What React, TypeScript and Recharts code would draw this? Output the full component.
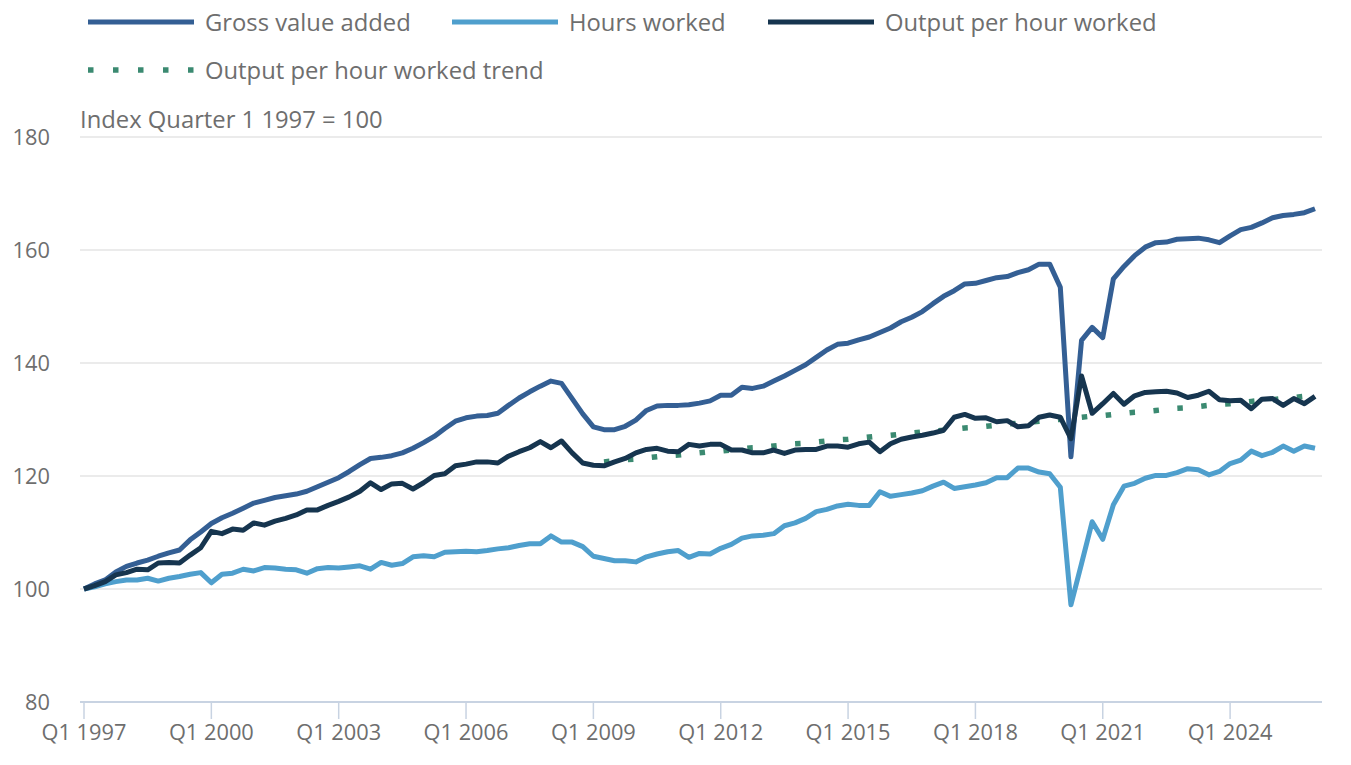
import React from 'react';
import { LineChart, Line, XAxis, YAxis, CartesianGrid } from 'recharts';

// Index Quarter 1 1997 = 100, quarterly from Q1 1997
const gvaValues = [
  100.0, 100.9, 101.6, 103.0, 104.0, 104.6, 105.1, 105.8, 106.4, 106.9, 108.7, 110.1,
  111.6, 112.6, 113.4, 114.3, 115.2, 115.7, 116.2, 116.5, 116.8, 117.3, 118.1, 118.9,
  119.7, 120.8, 122.0, 123.1, 123.3, 123.6, 124.1, 124.9, 125.9, 127.0, 128.4, 129.7,
  130.3, 130.6, 130.7, 131.1, 132.5, 133.8, 134.9, 135.9, 136.8, 136.4, 133.7, 131.0,
  128.7, 128.2, 128.2, 128.8, 129.9, 131.6, 132.4, 132.5, 132.5, 132.6, 132.9, 133.3,
  134.3, 134.3, 135.7, 135.5, 135.9, 136.8, 137.7, 138.7, 139.7, 141.0, 142.3, 143.3,
  143.5, 144.1, 144.6, 145.4, 146.2, 147.3, 148.1, 149.1, 150.5, 151.8, 152.8, 154.0,
  154.1, 154.6, 155.1, 155.3, 156.0, 156.5, 157.5, 157.5, 153.4, 123.4, 144.0, 146.3,
  144.5, 154.9, 157.1, 159.0, 160.5, 161.3, 161.4, 161.9, 162.0, 162.1, 161.8, 161.3,
  162.5, 163.6, 164.0, 164.8, 165.7, 166.1, 166.3, 166.6, 167.3,
];

const hoursValues = [
  100.0, 100.4, 100.9, 101.3, 101.6, 101.6, 101.9, 101.4, 101.9, 102.2, 102.6, 102.9,
  101.1, 102.6, 102.8, 103.5, 103.2, 103.8, 103.7, 103.5, 103.4, 102.8, 103.6, 103.8,
  103.7, 103.9, 104.1, 103.5, 104.7, 104.2, 104.5, 105.7, 105.9, 105.7, 106.5, 106.6,
  106.7, 106.6, 106.8, 107.1, 107.3, 107.7, 108.0, 108.0, 109.4, 108.3, 108.3, 107.5,
  105.8, 105.4, 105.0, 105.0, 104.8, 105.7, 106.2, 106.6, 106.8, 105.6, 106.3, 106.2,
  107.2, 107.9, 109.0, 109.4, 109.5, 109.8, 111.2, 111.7, 112.5, 113.7, 114.1, 114.7,
  115.0, 114.8, 114.8, 117.2, 116.4, 116.7, 117.0, 117.4, 118.2, 118.9, 117.8, 118.1,
  118.4, 118.8, 119.7, 119.7, 121.4, 121.4, 120.7, 120.4, 118.0, 97.2, 104.5, 111.9,
  108.8, 114.9, 118.2, 118.7, 119.6, 120.1, 120.1, 120.6, 121.3, 121.1, 120.2, 120.8,
  122.2, 122.8, 124.4, 123.6, 124.2, 125.3, 124.4, 125.3, 124.9,
];

const ophValues = [
  100.0, 100.6, 101.3, 102.5, 102.9, 103.5, 103.4, 104.6, 104.7, 104.6, 106.0, 107.3,
  110.2, 109.8, 110.6, 110.4, 111.7, 111.3, 112.0, 112.5, 113.1, 114.0, 114.0, 114.8,
  115.5, 116.3, 117.3, 118.8, 117.6, 118.6, 118.7, 117.7, 118.8, 120.1, 120.4, 121.8,
  122.1, 122.5, 122.5, 122.3, 123.5, 124.3, 125.0, 126.1, 125.0, 126.2, 124.1, 122.3,
  121.9, 121.8, 122.5, 123.1, 124.1, 124.7, 124.9, 124.4, 124.3, 125.6, 125.3, 125.6,
  125.6, 124.6, 124.6, 124.1, 124.1, 124.6, 124.0, 124.6, 124.7, 124.7, 125.3, 125.3,
  125.1, 125.7, 126.0, 124.3, 125.7, 126.5, 126.9, 127.2, 127.6, 128.1, 130.4, 130.9,
  130.2, 130.3, 129.6, 129.8, 128.7, 128.9, 130.4, 130.8, 130.4, 126.6, 137.7, 131.1,
  132.8, 134.6, 132.7, 134.2, 134.8, 134.9, 135.0, 134.7, 133.9, 134.3, 135.0, 133.5,
  133.3, 133.4, 131.9, 133.6, 133.7, 132.5, 133.7, 132.8, 134.1,
];

// trend starts at Q2 2009
const trendStart = 'Q2 2009';
const trendValues = [
  122.5, 122.7, 122.9, 123.0, 123.2, 123.4, 123.6, 123.7, 123.9, 124.1, 124.3, 124.4,
  124.6, 124.8, 125.0, 125.1, 125.3, 125.5, 125.7, 125.8, 126.0, 126.2, 126.4, 126.5,
  126.7, 126.9, 127.1, 127.2, 127.4, 127.6, 127.8, 127.9, 128.1, 128.3, 128.5, 128.6,
  128.8, 129.0, 129.2, 129.3, 129.5, 129.7, 129.9, 130.0, 130.2, 130.4, 130.6, 130.7,
  130.9, 131.1, 131.3, 131.4, 131.6, 131.8, 132.0, 132.1, 132.3, 132.5, 132.7, 132.8,
  133.0, 133.2, 133.4, 133.5, 133.7, 133.9, 134.1, 134.2,
];

const yTicks = [80, 100, 120, 140, 160, 180];

const quarters: string[] = [];
for (let y = 1997; y <= 2026; y++) {
  for (let q = 1; q <= 4; q++) quarters.push(`Q${q} ${y}`);
}
const categories = quarters.slice(0, gvaValues.length);
const trendIndex = categories.indexOf(trendStart);

const data = categories.map((quarter, i) => ({
  quarter,
  gva: gvaValues[i],
  hours: hoursValues[i],
  oph: ophValues[i],
  trend: i >= trendIndex ? trendValues[i - trendIndex] : null,
}));

const COLORS = {
  gva: '#345f94',
  hours: '#4f9fcd',
  oph: '#16354f',
  trend: '#3b8a71',
};

const FONT = '"Open Sans", sans-serif';
const TEXT = '#6e6e6e';

const LegendItem = ({ left, top, color, dotted, label }: any) => (
  <div style={{ position: 'absolute', left, top, display: 'flex', alignItems: 'center', height: 30 }}>
    <svg width={106} height={10} style={{ display: 'block' }}>
      {dotted ? (
        <line x1={0} y1={5} x2={106} y2={5} stroke={color} strokeWidth={5.5} strokeDasharray="5.5 19.5" />
      ) : (
        <line x1={0} y1={5} x2={106} y2={5} stroke={color} strokeWidth={5} />
      )}
    </svg>
    <span style={{ marginLeft: 11, fontSize: 23.8, color: TEXT, fontFamily: FONT, whiteSpace: 'nowrap' }}>{label}</span>
  </div>
);

const App: React.FC = () => {
  return (
    <div style={{ position: 'absolute', left: 0, top: 0, width: 1351, height: 765, background: '#fff', fontFamily: FONT }}>
      <LegendItem left={88} top={7} color={COLORS.gva} label="Gross value added" />
      <LegendItem left={452} top={7} color={COLORS.hours} label="Hours worked" />
      <LegendItem left={768} top={7} color={COLORS.oph} label="Output per hour worked" />
      <LegendItem left={88} top={55} color={COLORS.trend} dotted label="Output per hour worked trend" />
      <div style={{ position: 'absolute', left: 80, top: 103, fontSize: 23.8, color: TEXT, whiteSpace: 'nowrap' }}>
        Index Quarter 1 1997 = 100
      </div>

      <LineChart
        width={1351}
        height={765}
        data={data}
        margin={{ top: 137, right: 29, bottom: 13, left: 0 }}
      >
        <CartesianGrid vertical={false} stroke="#e4e4e4" strokeWidth={1.5} />
        <XAxis
          dataKey="quarter"
          interval={11}
          height={50}
          padding={{ left: 4, right: 7 }}
          axisLine={{ stroke: '#c8d3e2', strokeWidth: 2 }}
          tickLine={{ stroke: '#c8d3e2', strokeWidth: 1.5 }}
          tickSize={17}
          tickMargin={6}
          tick={{ fill: TEXT, fontSize: 21.8, fontFamily: FONT }}
        />
        <YAxis
          domain={[80, 180]}
          ticks={yTicks}
          width={80}
          axisLine={false}
          tickLine={false}
          tickSize={0}
          tickMargin={30}
          tick={{ fill: TEXT, fontSize: 21.8, fontFamily: FONT }}
        />
        <Line dataKey="trend" stroke={COLORS.trend} strokeWidth={5.5} strokeDasharray="5.5 18.5" dot={false} activeDot={false} isAnimationActive={false} type="linear" />
        <Line dataKey="hours" stroke={COLORS.hours} strokeWidth={5} dot={false} activeDot={false} isAnimationActive={false} type="linear" strokeLinejoin="round" />
        <Line dataKey="gva" stroke={COLORS.gva} strokeWidth={5} dot={false} activeDot={false} isAnimationActive={false} type="linear" strokeLinejoin="round" />
        <Line dataKey="oph" stroke={COLORS.oph} strokeWidth={5} dot={false} activeDot={false} isAnimationActive={false} type="linear" strokeLinejoin="round" />
      </LineChart>
    </div>
  );
};

export default App;
